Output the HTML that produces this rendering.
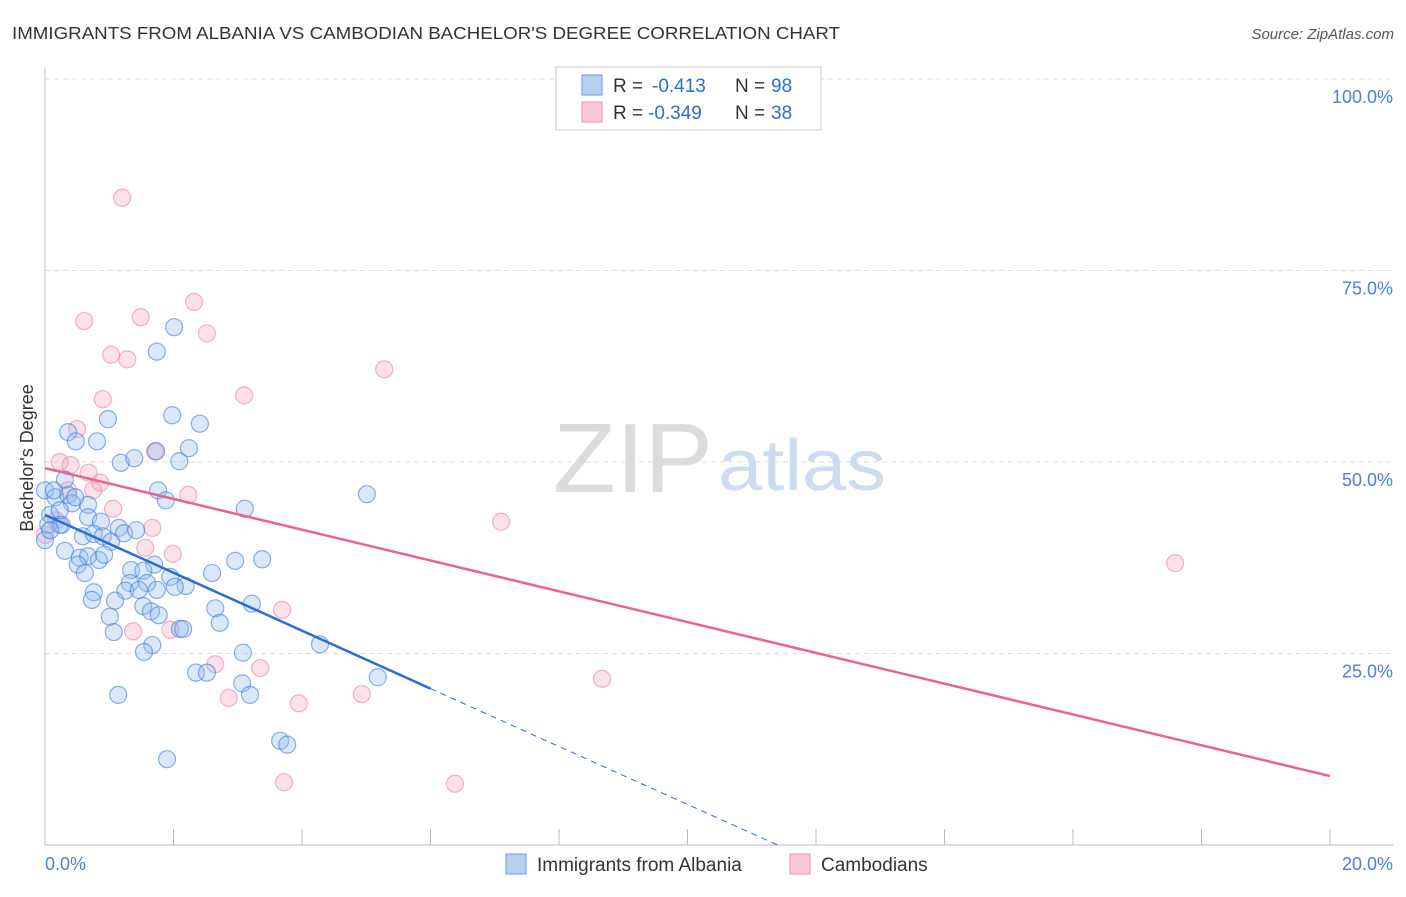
<!DOCTYPE html>
<html><head><meta charset="utf-8"><style>
body{margin:0;background:#fff;font-family:"Liberation Sans",sans-serif;}
svg text{font-family:"Liberation Sans",sans-serif;}
</style></head><body>
<svg id="c" width="1406" height="892">
<text x="12" y="39" font-size="17.5" fill="#333" textLength="828" lengthAdjust="spacingAndGlyphs">IMMIGRANTS FROM ALBANIA VS CAMBODIAN BACHELOR'S DEGREE CORRELATION CHART</text>
<text x="1394" y="39" font-size="15" fill="#555" font-style="italic" text-anchor="end">Source: ZipAtlas.com</text>
<text x="33" y="458" font-size="18" fill="#333" text-anchor="middle" transform="rotate(-90 33 458)">Bachelor's Degree</text>
<g id="grid"></g>
<text x="553" y="492" font-size="98" fill="#dcdcdc" font-family="Liberation Serif" textLength="160" lengthAdjust="spacingAndGlyphs">ZIP</text>
<text x="718" y="490" font-size="72" fill="#cddcf0" textLength="168" lengthAdjust="spacingAndGlyphs">atlas</text>
<g id="marks"></g>
<g>
<rect x="556" y="67" width="265" height="63" fill="#fff" stroke="#ccc"/>
<rect x="582" y="75" width="20" height="20" fill="#b7d0f4" stroke="#6b9be0"/>
<rect x="582" y="102" width="20" height="20" fill="#f9c9d6" stroke="#eb93ad"/>
<text x="613" y="92" font-size="19" fill="#333">R =</text>
<text x="652" y="92" font-size="19" fill="#2a6dd6">-0.413</text>
<text x="735" y="92" font-size="19" fill="#333">N =</text>
<text x="771" y="92" font-size="19" fill="#2a6dd6">98</text>
<text x="613" y="119" font-size="19" fill="#333">R =</text>
<text x="648" y="119" font-size="19" fill="#2a6dd6">-0.349</text>
<text x="735" y="119" font-size="19" fill="#333">N =</text>
<text x="771" y="119" font-size="19" fill="#2a6dd6">38</text>
</g>
<g>
<rect x="506" y="854" width="20" height="20" fill="#b7d0f4" stroke="#6b9be0"/>
<text x="537" y="871" font-size="19" fill="#333">Immigrants from Albania</text>
<rect x="790" y="854" width="20" height="20" fill="#f9c9d6" stroke="#eb93ad"/>
<text x="821" y="871" font-size="19" fill="#333">Cambodians</text>
</g>
</svg>
<script>
const blueX=[1.74,2.01,1.98,2.41,0.98,0.36,0.48,0.81,1.18,1.39,1.73,2.09,2.24,1.76,1.88,3.11,5.01,0,0.16,0.36,0.42,0.67,0.08,0.23,0.67,0.87,0.14,0.31,0.47,0.05,0.26,0.31,0.59,0.76,0.90,1.03,1.15,1.23,1.42,0.54,0.67,0.84,0.92,0.51,0.62,1.34,1.70,1.53,1.95,2.19,2.60,2.96,3.38,1.32,1.59,1.74,1.25,1.46,0.76,0.73,1.09,1.53,1.65,1.77,2.02,2.65,3.22,2.72,1.01,1.07,2.10,2.15,1.67,1.54,3.08,4.28,5.18,2.35,2.52,3.07,3.19,1.14,3.66,3.77,1.90,0,0.08,0.23];
const blueY=[64.4,67.6,56.1,55.0,55.6,53.9,52.7,52.7,49.9,50.5,51.4,50.1,51.8,46.3,45.0,43.9,45.8,46.3,45.4,45.7,44.6,44.4,43.1,41.8,42.8,42.2,46.3,47.7,45.4,41.8,41.8,38.4,40.3,40.6,40.3,39.6,41.4,40.7,41.1,37.5,37.7,37.2,37.9,36.6,35.5,35.9,36.6,35.8,35.0,33.8,35.5,37.1,37.3,34.2,34.2,33.3,33.2,33.3,33.0,32.0,31.9,31.2,30.5,30.0,33.7,30.9,31.5,29.0,29.8,27.8,28.2,28.2,26.1,25.2,25.1,26.2,21.9,22.5,22.5,21.1,19.6,19.6,13.6,13.1,11.2,39.8,41.1,43.7];
const pinkX=[1.20,0.61,1.49,2.32,2.52,1.03,1.28,5.28,0.90,3.10,0.50,1.71,0.23,0.40,0.68,0.86,0.36,0.75,2.23,1.06,0.17,1.67,1.56,1.99,7.10,17.59,3.69,1.37,1.95,2.65,3.35,2.86,4.93,3.95,8.67,3.72,6.38,0];
const pinkY=[84.5,68.4,68.9,70.9,66.8,64.0,63.4,62.1,58.2,58.7,54.3,51.4,50.0,49.6,48.6,47.3,46.3,46.3,45.7,43.9,42.4,41.4,38.8,38.0,42.2,36.8,30.7,27.9,28.1,23.6,23.1,19.2,19.7,18.5,21.7,8.2,8.0,40.5];
const blueTrend=[43.1,-3.78];
const blueSolidEnd=6;
const pinkTrend=[49.2,-2.01];
const yTicks=[25,50,75,100];
const yTickLabels=["25.0%","50.0%","75.0%","100.0%"];
const xTicks=[0,2,4,6,8,10,12,14,16,18,20];

const NS="http://www.w3.org/2000/svg";
const sx=v=>45+v*64.25, sy=v=>845-v*7.66;
function mk(t,a,p){const e=document.createElementNS(NS,t);for(const k in a)e.setAttribute(k,a[k]);p.appendChild(e);return e;}
const g=document.getElementById('grid'), m=document.getElementById('marks');
yTicks.forEach((t,i)=>{
 const l=mk('line',{x1:45,x2:1393,y1:sy(t),y2:sy(t),stroke:'#ddd','stroke-dasharray':'5,4'},g);
 
 
 const tx=mk('text',{x:1393,y:sy(t)+24,'font-size':18,fill:'#4a80d8','text-anchor':'end'},g);
 tx.textContent=yTickLabels[i];
 
 
});
const ax=mk('line',{x1:45,x2:45,y1:68,y2:845,stroke:'#bbb'},g);


const bx=mk('line',{x1:45,x2:1393,y1:845,y2:845,stroke:'#bbb'},g);


xTicks.forEach(t=>{
 const l=mk('line',{x1:sx(t),x2:sx(t),y1:829,y2:845,stroke:'#bbb'},g);
 
 
});
const x0=mk('text',{x:45,y:870,'font-size':18,fill:'#4a80d8'},g);x0.textContent='0.0%';


const x1=mk('text',{x:1393,y:870,'font-size':18,fill:'#4a80d8','text-anchor':'end'},g);x1.textContent='20.0%';



pinkX.forEach((x,i)=>{
 const c=mk('circle',{cx:sx(x),cy:sy(pinkY[i]),r:8.5,fill:'rgba(246,170,195,0.35)',stroke:'rgba(232,120,155,0.55)','stroke-width':1.2},m);
 
 
});
blueX.forEach((x,i)=>{
 const c=mk('circle',{cx:sx(x),cy:sy(blueY[i]),r:8.5,fill:'rgba(150,190,240,0.35)',stroke:'rgba(60,125,215,0.6)','stroke-width':1.2},m);
 
 
});
const bz=-blueTrend[0]/blueTrend[1];
const bd=mk('line',{x1:sx(blueSolidEnd),y1:sy(blueTrend[0]+blueTrend[1]*blueSolidEnd),x2:sx(bz),y2:sy(0),stroke:'#2a6dd6','stroke-width':1,'stroke-dasharray':'6,5'},m);


const bl=mk('line',{x1:sx(0),y1:sy(blueTrend[0]),x2:sx(blueSolidEnd),y2:sy(blueTrend[0]+blueTrend[1]*blueSolidEnd),stroke:'#2a6dd6','stroke-width':2.5},m);


const pl=mk('line',{x1:sx(0),y1:sy(pinkTrend[0]),x2:sx(20),y2:sy(pinkTrend[0]+pinkTrend[1]*20),stroke:'#e8648f','stroke-width':2.5},m);


</script>
</body></html>
